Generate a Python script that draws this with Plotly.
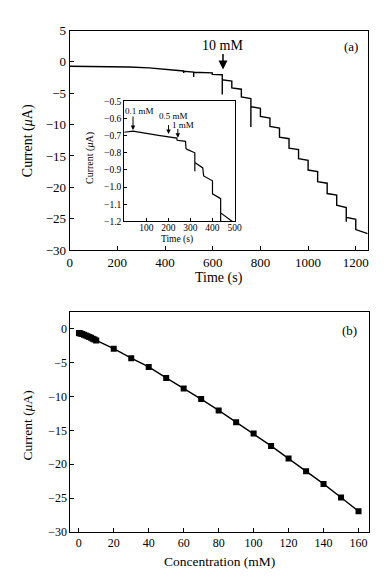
import plotly.graph_objects as go

# ---------------- data ----------------
# Panel (a): amperometric trace, step additions
pre_t = [0, 150, 250, 333, 400, 478, 478, 478, 520, 520, 520, 598, 598, 640]
pre_i = [-0.70, -0.72, -0.80, -0.95, -1.15, -1.45, -1.78, -1.48, -1.62, -2.40, -1.64, -1.75, -1.98, -2.05]

step_t = [640, 680, 720, 760, 800, 840, 880, 920, 960, 1000, 1040, 1080, 1120, 1160, 1200]
level_start = [-2.85, -4.15, -5.60, -7.15, -8.70, -10.30, -12.00, -13.75, -15.45, -17.25, -19.10, -21.00, -22.85, -24.80, -26.75]
level_end = [-3.05, -4.35, -5.85, -7.40, -8.95, -10.55, -12.25, -14.00, -15.70, -17.50, -19.35, -21.25, -23.25, -25.10, -27.40]
spike_to = [-5.2, None, None, -10.4, None, None, None, None, None, None, None, None, None, -25.5, None]
t_end = 1250

# Inset trace (0-500 s)
inset_t = [0, 40, 155, 200, 238, 240, 278, 280, 285, 320, 320, 320, 356, 360, 400, 400, 437, 437, 437, 490]
inset_i = [-0.680, -0.674, -0.698, -0.706, -0.714, -0.727, -0.733, -0.774, -0.780, -0.800, -0.907, -0.856, -0.888, -0.935, -0.963, -1.039, -1.067, -1.200, -1.150, -1.200]

# Panel (b): calibration
conc = [0.1, 0.5, 1, 2, 3, 4, 5, 6, 7, 8, 9, 10, 20, 30, 40, 50, 60, 70, 80, 90, 100, 110, 120, 130, 140, 150, 160]
current_b = [-0.66, -0.69, -0.72, -0.82, -0.92, -1.03, -1.13, -1.25, -1.37, -1.50, -1.62, -1.76,
             -2.97, -4.36, -5.65, -7.28, -8.82, -10.40, -12.07, -13.80, -15.48, -17.30, -19.17,
             -21.03, -22.90, -24.90, -26.93]

# ---------------- build step path ----------------
tt = list(pre_t)
ii = list(pre_i)
for k, t0 in enumerate(step_t):
    if spike_to[k] is not None:
        tt.append(t0); ii.append(spike_to[k])
    tt.append(t0); ii.append(level_start[k])
    t1 = step_t[k + 1] if k + 1 < len(step_t) else t_end
    tt.append(t1); ii.append(level_end[k])

FONT = "Liberation Serif"
fig = go.Figure()

fig.add_trace(go.Scatter(x=tt, y=ii, mode="lines", line=dict(color="black", width=1.4),
                         xaxis="x", yaxis="y", showlegend=False))
fig.add_trace(go.Scatter(x=inset_t, y=inset_i, mode="lines", line=dict(color="black", width=1.2),
                         xaxis="x3", yaxis="y3", showlegend=False))
fig.add_trace(go.Scatter(x=conc, y=current_b, mode="lines+markers",
                         line=dict(color="black", width=1.4),
                         marker=dict(symbol="square", size=6, color="black"),
                         xaxis="x2", yaxis="y2", showlegend=False))

# page has an 8px body margin: size the figure so it fits the 390x587 window
OFF = 8
W, H = 390 - 2 * OFF, 587 - 2 * OFF
def px(x): return (x - OFF) / W
def py(y): return 1 - (y - OFF) / H

axcommon = dict(showline=True, linecolor="black", linewidth=1, mirror=True, ticks="inside",
                ticklen=4, tickcolor="black", showgrid=False, zeroline=False,
                tickfont=dict(family=FONT, size=13, color="black"))

fig.update_layout(
    width=W, height=H, margin=dict(l=0, r=0, t=0, b=0),
    paper_bgcolor="white", plot_bgcolor="white",
    font=dict(family=FONT, color="black"),
    xaxis=dict(domain=[px(68.3), px(374.5)], range=[0, 1250], tickvals=[0, 200, 400, 600, 800, 1000, 1200],
               anchor="y", **axcommon),
    yaxis=dict(domain=[py(249.3), py(24)], range=[-30, 5], tickvals=[5, 0, -5, -10, -15, -20, -25, -30],
               anchor="x", **axcommon),
    xaxis2=dict(domain=[px(69), px(375.5)], range=[-4.8, 165.8], tickvals=list(range(0, 161, 20)),
                anchor="y2", **{**axcommon, "tickfont": dict(family=FONT, size=12, color="black")}),
    yaxis2=dict(domain=[py(539), py(313.3)], range=[-30, 2.4], tickvals=[0, -5, -10, -15, -20, -25, -30],
                anchor="x2", **{**axcommon, "tickfont": dict(family=FONT, size=12, color="black")}),
    xaxis3=dict(domain=[px(124.3), px(237.7)], range=[0, 500], tickvals=[100, 200, 300, 400, 500],
                anchor="y3", ticklabelstandoff=-3,
                **{**axcommon, "ticklen": 3, "tickfont": dict(family=FONT, size=9.5, color="black")}),
    yaxis3=dict(domain=[py(220), py(96.7)], range=[-1.2, -0.5], tickvals=[-0.5, -0.6, -0.7, -0.8, -0.9, -1.0, -1.1, -1.2],
                tickformat=".1f", anchor="x3", **{**axcommon, "ticklen": 3, "tickfont": dict(family=FONT, size=9.5, color="black")}),
)

ann = []
# axis titles
ann.append(dict(text="Time (s)", x=px(221.7), y=py(278), xref="paper", yref="paper", showarrow=False,
                font=dict(family=FONT, size=14), xanchor="center", yanchor="middle"))
ann.append(dict(text="Current (<i>μ</i>A)", x=px(25), y=py(137), xref="paper", yref="paper", showarrow=False,
                textangle=-90, font=dict(family=FONT, size=14), xanchor="center", yanchor="middle"))
ann.append(dict(text="Concentration (mM)", x=px(222), y=py(569), xref="paper", yref="paper", showarrow=False,
                font=dict(family=FONT, size=13.5), xanchor="center", yanchor="middle"))
ann.append(dict(text="Current (<i>μ</i>A)", x=px(25), y=py(430), xref="paper", yref="paper", showarrow=False,
                textangle=-90, font=dict(family=FONT, size=13.5), xanchor="center", yanchor="middle"))
ann.append(dict(text="Time (s)", x=px(179), y=py(238.5), xref="paper", yref="paper", showarrow=False,
                font=dict(family=FONT, size=9.5), xanchor="center", yanchor="middle"))
ann.append(dict(text="Current (<i>μ</i>A)", x=px(89), y=py(155), xref="paper", yref="paper", showarrow=False,
                textangle=-90, font=dict(family=FONT, size=10), xanchor="center", yanchor="middle"))
# panel labels
ann.append(dict(text="(a)", x=1178, y=2.5, xref="x", yref="y", showarrow=False,
                font=dict(family=FONT, size=13), xanchor="center", yanchor="middle"))
ann.append(dict(text="(b)", x=155, y=-0.3, xref="x2", yref="y2", showarrow=False,
                font=dict(family=FONT, size=13), xanchor="center", yanchor="middle"))
# main arrow
ann.append(dict(text="10 mM", x=643, y=2.6, xref="x", yref="y", showarrow=False,
                font=dict(family=FONT, size=14), xanchor="center", yanchor="middle"))
ann.append(dict(text="", x=643, y=-1.2, ax=643, ay=1.5, xref="x", yref="y", axref="x", ayref="y",
                showarrow=True, arrowhead=2, arrowsize=1.2, arrowwidth=1.5, arrowcolor="black"))
# inset arrows
for (xt, yt, lab, xa, y0, y1) in [(69, -0.557, "0.1 mM", 40, -0.58, -0.667),
                                   (224, -0.585, "0.5 mM", 201, -0.63, -0.69),
                                   (268, -0.637, "1 mM", 243, -0.652, -0.712)]:
    ann.append(dict(text=lab, x=xt, y=yt, xref="x3", yref="y3", showarrow=False,
                    font=dict(family=FONT, size=9), xanchor="center", yanchor="middle"))
    ann.append(dict(text="", x=xa, y=y1, ax=xa, ay=y0, xref="x3", yref="y3", axref="x3", ayref="y3",
                    showarrow=True, arrowhead=2, arrowsize=0.9, arrowwidth=1, arrowcolor="black"))

fig.update_layout(annotations=ann)
fig.write_html("out.html")
